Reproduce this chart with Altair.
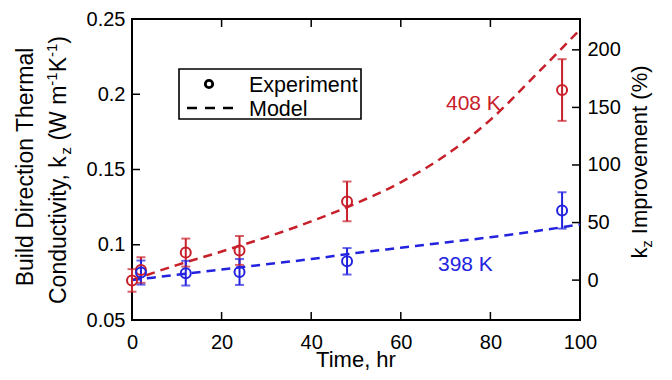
import altair as alt
import pandas as pd

FONT = "Liberation Sans"
RED = "#c8202a"
BLUE = "#2323df"

# ---------------- data ----------------
time_408 = [0, 2, 12, 24, 48, 96]
k_408 = [0.0763, 0.0832, 0.0948, 0.0962, 0.1288, 0.2028]
err_408 = [0.0075, 0.0085, 0.0093, 0.0096, 0.0132, 0.0205]

time_398 = [2, 12, 24, 48, 96]
k_398 = [0.0815, 0.0811, 0.0819, 0.0890, 0.1228]
err_398 = [0.0080, 0.0082, 0.0086, 0.0088, 0.0121]

model_time = [0, 10, 20, 30, 40, 50, 60, 70, 80, 90, 100]
model_408 = [0.0765, 0.0865, 0.0955, 0.1050, 0.1155, 0.1275, 0.1415, 0.1595, 0.1830, 0.2125, 0.2430]
model_398 = [0.0765, 0.0800, 0.0835, 0.0870, 0.0905, 0.0945, 0.0980, 0.1015, 0.1050, 0.1090, 0.1135]

x_ticks = [0, 20, 40, 60, 80, 100]
k_ticks = [0.05, 0.1, 0.15, 0.2, 0.25]
pct_ticks = [0, 50, 100, 150, 200]
k_domain = [0.05, 0.25]
k_base = 0.0765  # conductivity at 0 % improvement

series_names = ["408 K", "398 K"]
series_colors = [RED, BLUE]

# ---------------- tables ----------------
model_df = pd.DataFrame({
    "t": model_time + model_time,
    "k": model_408 + model_398,
    "series": ["408 K"] * len(model_time) + ["398 K"] * len(model_time),
})
exp_df = pd.DataFrame({
    "t": time_408 + time_398,
    "k": k_408 + k_398,
    "err": err_408 + err_398,
    "series": ["408 K"] * len(time_408) + ["398 K"] * len(time_398),
})
exp_df["lo"] = exp_df["k"] - exp_df["err"]
exp_df["hi"] = exp_df["k"] + exp_df["err"]
xt_df = pd.DataFrame({"t": x_ticks[1:-1]})
kt_df = pd.DataFrame({"k": k_ticks[1:-1]})
pt_df = pd.DataFrame({"p": pct_ticks})
one = pd.DataFrame({"_": [0]})

W_PLOT, H_PLOT = 448, 301
TICK = 8

xs = alt.Scale(domain=[0, 100], nice=False, zero=False)
ys = alt.Scale(domain=k_domain, nice=False, zero=False)
pct_domain = [(k_domain[0] / k_base - 1) * 100, (k_domain[1] / k_base - 1) * 100]
ps = alt.Scale(domain=pct_domain, nice=False, zero=False)
cs = alt.Scale(domain=series_names, range=series_colors)

x_axis = alt.Axis(values=x_ticks, title=None, labelFontSize=20, labelPadding=12,
                  labelFlush=False, labelOverlap=False, ticks=False, tickSize=0, domain=False)
y_axis = alt.Axis(values=k_ticks, title=None, format="~g", labelFontSize=20, labelPadding=7,
                  labelOverlap=False, ticks=False, tickSize=0, domain=False)
p_axis = alt.Axis(values=pct_ticks, orient="right", title=None, labelFontSize=20, labelPadding=7,
                  labelOverlap=False, ticks=False, tickSize=0, domain=False)


def X(f):
    return alt.X(f"{f}:Q", scale=xs, axis=x_axis)


def Y(f):
    return alt.Y(f"{f}:Q", scale=ys, axis=y_axis)


col = alt.Color("series:N", scale=cs, legend=None)

lines = alt.Chart(model_df).mark_line(strokeDash=[9, 6], strokeWidth=2.5, interpolate="monotone").encode(
    x=X("t"), y=Y("k"), color=col, detail="series:N")
bars = alt.Chart(exp_df).mark_rule(strokeWidth=2).encode(x=X("t"), y=Y("lo"), y2="hi:Q", color=col)
cap_lo = alt.Chart(exp_df).mark_tick(orient="horizontal", size=9, thickness=2).encode(
    x=X("t"), y=Y("lo"), color=col)
cap_hi = alt.Chart(exp_df).mark_tick(orient="horizontal", size=9, thickness=2).encode(
    x=X("t"), y=Y("hi"), color=col)
points = alt.Chart(exp_df).mark_point(shape="circle", filled=False, size=100, strokeWidth=2, opacity=1).encode(
    x=X("t"), y=Y("k"), color=col)

# inward ticks
xt_bottom = alt.Chart(xt_df).mark_rule(color="black", strokeWidth=1.5).encode(
    x=X("t"), y=alt.value(H_PLOT), y2=alt.value(H_PLOT - TICK))
xt_top = alt.Chart(xt_df).mark_rule(color="black", strokeWidth=1.5).encode(
    x=X("t"), y=alt.value(0), y2=alt.value(TICK))
kt_left = alt.Chart(kt_df).mark_rule(color="black", strokeWidth=1.5).encode(
    y=Y("k"), x=alt.value(0), x2=alt.value(TICK))


def text(t, x, y, size, color="black", angle=0, align="left"):
    kw = dict(text=t, fontSize=size, align=align, baseline="alphabetic", color=color, font=FONT)
    if angle:
        kw["angle"] = angle
    return alt.Chart(one).mark_text(**kw).encode(x=alt.value(x), y=alt.value(y))


WID = {' ': 278, '(': 333, ')': 333, ',': 278, '-': 333, '%': 889, '1': 556,
       'B': 667, 'C': 722, 'D': 722, 'I': 278, 'K': 667, 'T': 611, 'W': 944,
       'a': 556, 'c': 500, 'd': 556, 'e': 556, 'h': 556, 'i': 222, 'k': 500, 'l': 222,
       'm': 833, 'n': 556, 'o': 556, 'p': 556, 'r': 333, 't': 278, 'u': 556, 'v': 500,
       'y': 500, 'z': 500}


def tw(s, size):
    return sum(WID.get(c, 556) for c in s) / 1000 * size


def vertical_rich(segments, base_x, center_y):
    """segments: (text, size, shift); rotated 270 so text reads upward.
    Leading spaces are turned into an advance (SVG drops them)."""
    total = sum(tw(s, z) for s, z, _ in segments)
    y = center_y + total / 2
    out = []
    for s, z, sh in segments:
        stripped = s.lstrip(" ")
        lead = tw(s[: len(s) - len(stripped)], z)
        y -= lead
        out.append(text(stripped, base_x + sh, y, z, angle=270))
        y -= tw(stripped, z)
    return out


T, S = 23, 15
left_title = [text("Build Direction Thermal", -99, 148, T, angle=270, align="center")]
left_title += vertical_rich([("Conductivity, k", T, 0), ("z", S, 5), (" (W m", T, 0), ("-1", S, -9),
                             ("K", T, 0), ("-1", S, -9), (")", T, 0)], -66, 151)
right_title = vertical_rich([("k", 22, 0), ("z", 14.5, 5), (" Improvement (%)", 22, 0)], 515, 143)
bottom_title = [text("Time, hr", W_PLOT / 2, 348, 22, align="center")]

labels = [text("408 K", 314, 91, 21, color=RED), text("398 K", 306, 252, 21, color=BLUE)]

legend_box = alt.Chart(one).mark_rect(fill="white", stroke="black", strokeWidth=1.6).encode(
    x=alt.value(47), x2=alt.value(229), y=alt.value(50), y2=alt.value(100))
legend_pt = alt.Chart(one).mark_point(shape="circle", filled=False, size=55, strokeWidth=2.8, color="black",
                                      opacity=1).encode(x=alt.value(77), y=alt.value(65))
legend_ln = alt.Chart(one).mark_rule(strokeDash=[10, 8], strokeWidth=2.5, color="black").encode(
    x=alt.value(55), x2=alt.value(107), y=alt.value(89))
legend_txt = [text("Experiment", 117, 73, 21.5), text("Model", 117, 97, 21.5)]

left = alt.layer(lines, bars, cap_lo, cap_hi, points, xt_bottom, xt_top, kt_left,
                 legend_box, legend_pt, legend_ln, *legend_txt, *labels,
                 *left_title, *right_title, *bottom_title)

right = alt.Chart(pt_df).mark_rule(color="black", strokeWidth=1.5).encode(
    y=alt.Y("p:Q", scale=ps, axis=p_axis), x=alt.value(W_PLOT), x2=alt.value(W_PLOT - TICK))

chart = alt.layer(left, right).resolve_scale(y="independent").properties(
    width=W_PLOT, height=H_PLOT,
    padding={"left": 124, "top": 11, "right": 84, "bottom": 52},
    autosize=alt.AutoSizeParams(type="none"),
).configure(font=FONT).configure_view(stroke="black", strokeWidth=2).configure_axis(
    labelFont=FONT, labelColor="black", grid=False)

chart.save("out.html", embed_options={"renderer": "svg", "actions": False})
